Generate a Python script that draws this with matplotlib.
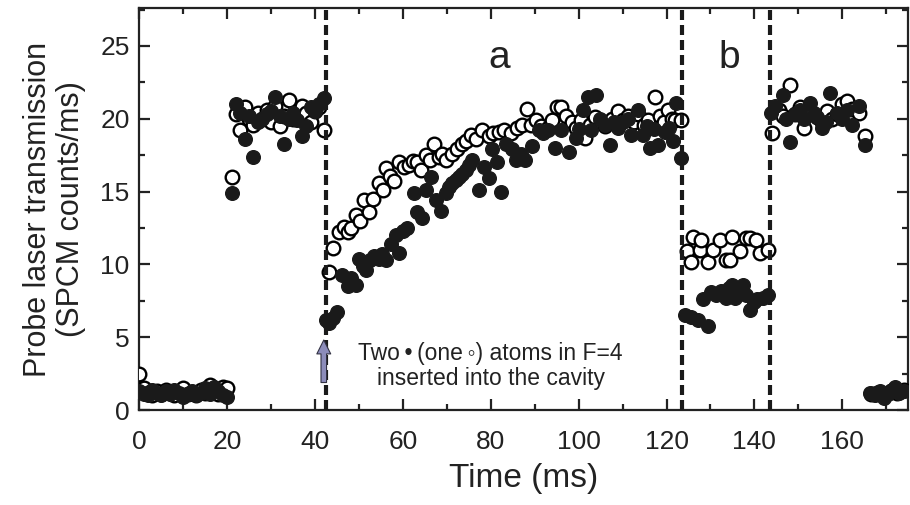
import matplotlib
matplotlib.use("Agg")
import matplotlib.pyplot as plt
from matplotlib.ticker import MultipleLocator

plt.rcParams['font.family'] = ['Liberation Sans', 'DejaVu Sans']

# Datos (tiempo en ms, cuentas/ms)
t_fill = [0, 1, 2, 3, 4, 5, 6, 7, 8, 9, 10, 11, 12, 13, 14, 15, 16, 17, 18, 19, 20,
          21, 22, 23, 24, 25, 26, 27, 28, 29, 30, 31, 32, 33, 34, 35, 36, 37, 38, 39, 40, 41, 42,
          42.6, 43.3, 44, 45, 46.2, 47.4, 48.2, 49.4, 50.1, 51, 51.6, 52.5, 53.5, 54.5, 55.3,
          56.2, 57.3, 58.4, 59.1, 60, 61, 62.5, 63.2, 64.4, 65.3, 66.4, 67.5, 68.7, 69.8, 70.5,
          71.2, 72, 72.7, 73.5, 74.3, 75, 75.7, 77.3, 78.4, 79.5, 80.2, 81.4, 82.3, 83.4, 84.8,
          85.7, 86.8, 87.9, 89.3, 90.9, 92, 93.1, 94.7, 96.1, 97.7, 99.3, 100, 101, 102.2, 102.9,
          104, 104.9, 106, 107.2, 108, 109, 110, 111.3, 112, 113.5, 114.7, 115.5, 116.3, 117.2,
          118, 119.7, 120.5, 121.5, 122.2, 123.3,
          124.2, 125.6, 127.1, 128.3, 129.4, 130.1, 131.3, 132.4, 133.5, 134.3, 135, 135.5,
          136.4, 137.3, 138, 138.9, 139.8, 140.7, 141.9, 143,
          143.7, 144.8, 146.4, 147.2, 148.2, 149.3, 150.4, 151.4, 152.7, 153.5, 154.3, 155.5,
          156.4, 157.3, 158.9, 160, 161.1, 162.3, 163.8, 165.2,
          166.3, 167.5, 168.5, 169.5, 170.5, 171.3, 172, 173, 174]
y_fill = [1.3, 1.1, 1.0, 1.4, 1.2, 1.0, 1.3, 1.1, 1.4, 1.2, 0.9, 1.1, 1.3, 1.0, 1.2, 1.5, 1.1, 1.6, 1.3, 1.0, 0.9,
          14.9, 21.0, 20.4, 18.6, 20.2, 17.4, 19.8, 20.0, 20.3, 20.5, 21.5, 20.2, 18.3, 20.0, 20.4, 19.9, 18.8, 19.5, 20.8, 20.5, 21.0, 21.4,
          6.2, 6.0, 6.3, 6.7, 9.3, 8.5, 9.1, 8.6, 10.4, 9.9, 9.6, 10.3, 10.6, 10.4, 10.7,
          10.3, 11.4, 12.0, 10.8, 12.3, 12.5, 14.9, 13.6, 13.2, 15.1, 16.0, 14.4, 13.7, 14.9, 15.3,
          15.6, 15.8, 16.0, 16.2, 16.5, 16.8, 17.2, 15.1, 16.7, 15.9, 17.9, 17.0, 15.0, 18.3, 17.9,
          17.2, 17.6, 17.2, 18.1, 19.2, 19.0, 19.2, 18.0, 19.2, 17.7, 18.7, 19.3, 20.6, 21.5, 19.2,
          21.6, 20.0, 19.6, 18.2, 19.8, 19.4, 19.8, 20.0, 18.9, 20.6, 18.9, 19.5, 18.0, 19.3,
          18.2, 19.1, 19.4, 18.5, 21.1, 17.3,
          6.5, 6.4, 6.2, 7.6, 5.8, 8.1, 7.9, 8.2, 7.7, 8.4, 8.6, 7.7,
          8.1, 8.6, 7.9, 6.9, 7.4, 7.6, 7.7, 7.9,
          20.4, 20.9, 21.6, 20.0, 18.4, 20.3, 20.6, 20.0, 21.1, 20.4, 20.1, 19.4,
          19.8, 21.8, 20.4, 20.0, 20.6, 19.6, 20.9, 18.2,
          1.2, 1.0, 1.3, 0.8, 1.1, 1.4, 1.6, 1.2, 1.3]

t_open = [0, 1, 2, 3, 4, 5, 6, 7, 8, 9, 10, 11, 12, 13, 14, 15, 16, 17, 18, 19, 20,
          21, 22, 23, 24, 25, 26, 27, 28, 29, 30, 31, 32, 33, 34, 35, 36, 37, 38, 39, 40, 41, 42,
          43.3, 44, 45.5, 46.5, 47.5, 48.3, 49.3, 50.3, 51.2, 52.3, 53.3, 54.6, 55.4, 56.2, 57,
          58, 59.1, 60.2, 61.4, 62.3, 63.2, 64.1, 65.3, 66.2, 67.1, 68.2, 69, 69.8, 71.2, 72.3,
          73.4, 74.4, 75.4, 76.6, 78, 79.5, 80.6, 81.8, 83, 84.5, 85.9, 87, 88.2, 89.2, 90.2,
          91.5, 93.1, 94, 95, 96, 97.2, 98.4, 99.5, 100.5, 101.5, 102.7, 103.8, 105, 106, 107.5,
          109, 110, 111.2, 112.5, 113.6, 114.8, 115.8, 117.4, 118.5, 119.4, 120.3, 121.2, 122, 123.3,
          124.7, 125.6, 126, 127.6, 127.8, 129.4, 130.5, 132.1, 133.5, 134.4, 135, 136.7,
          138, 138.9, 140.3, 141.2, 143,
          144.1, 145.5, 146.4, 148.2, 149.3, 150.3, 151.4, 152.5, 154.3, 155.5, 156.5, 157.6,
          158.9, 160, 161.1, 162.3, 163.8, 165.2,
          166.5, 168, 169.5, 171, 172.5, 174]
y_open = [2.5, 1.5, 1.2, 1.0, 1.3, 1.1, 1.4, 1.2, 1.0, 1.3, 1.5, 1.1, 1.2, 1.0, 1.4, 1.2, 1.7, 1.3, 1.1, 1.6, 1.5,
          16.0, 20.3, 19.2, 20.8, 20.0, 19.6, 20.4, 20.0, 20.6, 19.8, 20.9, 19.5, 20.2, 21.3, 20.0, 20.1, 20.9, 20.4, 19.8, 20.5, 20.8, 19.2,
          9.5, 11.1, 12.2, 12.6, 12.2, 12.5, 13.4, 13.0, 14.4, 13.6, 14.5, 15.6, 15.1, 16.6, 16.1,
          15.7, 17.0, 16.7, 16.8, 17.1, 17.0, 16.5, 17.5, 17.2, 18.3, 17.4, 17.6, 17.2, 17.6, 17.9,
          18.3, 18.5, 18.9, 18.6, 19.2, 18.8, 19.0, 19.1, 19.2, 19.0, 19.4, 19.6, 20.7, 19.6, 19.9,
          19.5, 19.4, 19.9, 20.8, 20.8, 20.2, 19.8, 19.4, 19.9, 18.7, 19.6, 20.1, 19.8, 19.5, 20.0,
          20.5, 19.9, 20.2, 19.8, 20.3, 19.6, 19.9, 21.5, 20.2, 19.8, 20.6, 20.0, 19.9, 19.9,
          10.9, 10.2, 11.9, 11.0, 11.7, 10.2, 11.0, 11.7, 10.3, 10.3, 11.9, 10.9,
          11.8, 11.8, 11.7, 10.8, 11.0,
          19.0, 20.6, 20.2, 22.3, 20.3, 20.8, 19.4, 20.6, 20.1, 19.8, 20.5, 20.0,
          20.3, 21.0, 21.2, 20.7, 20.4, 18.8,
          1.1, 1.2, 1.0, 1.3, 1.2, 1.4]

# Lineas de separacion y etiquetas
t_lines = [42.6, 123.6, 143.6]

fig = plt.figure(figsize=(9.1, 5.05), dpi=100)
ax = fig.add_axes([0.153, 0.188, 0.845, 0.796])

ax.plot(t_open, y_open, 'o', ms=9.8, mfc='white', mec='black', mew=1.7, zorder=3)
ax.plot(t_fill, y_fill, 'o', ms=9.8, mfc='#1a1a1a', mec='#1a1a1a', mew=1.0, zorder=4)

for t in t_lines:
    ax.axvline(t, color='#1a1a1a', lw=3.0, ls=(0, (2.4, 1.2)), zorder=5)

ax.text(82, 24.2, 'a', fontsize=28, ha='center', va='center', color='#222222')
ax.text(134.3, 24.2, 'b', fontsize=28, ha='center', va='center', color='#222222')

ax.annotate('', xy=(42.0, 5.0), xytext=(42.0, 1.7),
            arrowprops=dict(arrowstyle='simple,head_width=1.0,head_length=1.0,tail_width=0.4',
                            fc='#8c8cba', ec='#333344', lw=0.8), zorder=6)
ax.text(80.0, 3.0, 'Two\u2009\u2022\u2009(one\u2009\u25e6) atoms in F=4\ninserted into the cavity',
        fontsize=16.5, ha='center', va='center', color='#222222', linespacing=1.1)

ax.set_xlim(0, 175)
ax.set_ylim(0, 27.6)
ax.xaxis.set_major_locator(MultipleLocator(20))
ax.xaxis.set_minor_locator(MultipleLocator(10))
ax.yaxis.set_major_locator(MultipleLocator(5))
ax.yaxis.set_minor_locator(MultipleLocator(2.5))
ax.tick_params(which='both', direction='in', top=True, right=True, width=1.6, colors='#222222')
ax.tick_params(which='major', length=8, labelsize=19, pad=7)
ax.tick_params(axis='x', which='major', pad=14)
ax.tick_params(which='minor', length=4.5)
for s in ax.spines.values():
    s.set_linewidth(1.6)
    s.set_color('#222222')

ax.set_xlabel('Time (ms)', fontsize=24, color='#222222', labelpad=7)
ax.set_ylabel('Probe laser transmission\n(SPCM counts/ms)', fontsize=22, color='#222222',
              linespacing=1.15, labelpad=10)

fig.savefig('out.png', dpi=100)
